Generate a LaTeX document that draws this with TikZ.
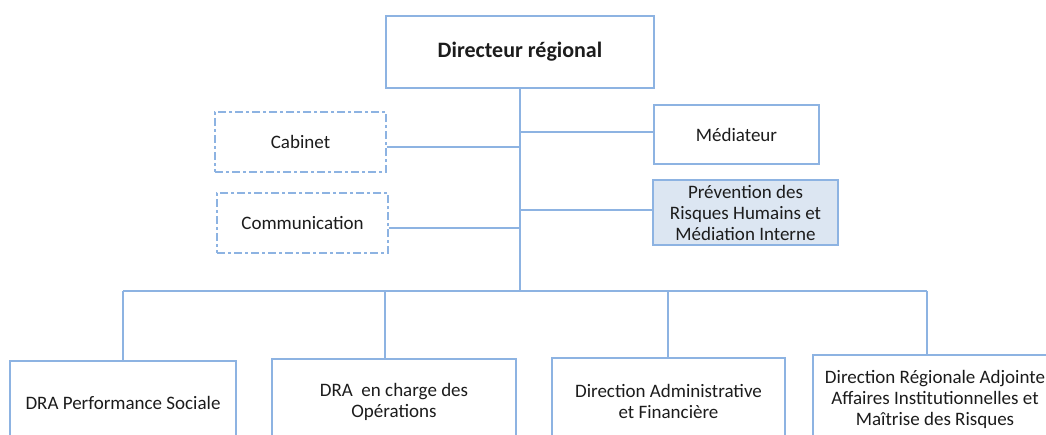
\documentclass[tikz,border=0pt]{standalone}
\usepackage{fontspec}
\setmainfont{Carlito}
\definecolor{lineblue}{HTML}{8DB3E2}
\definecolor{fillblue}{HTML}{DCE6F2}
\definecolor{ink}{HTML}{1C1C1C}
\begin{document}
\begin{tikzpicture}[x=1pt,y=-1pt,
  unit/.style={draw=lineblue,line width=1.4pt,fill=white,text=ink,align=center,
    inner sep=0pt,font=\fontsize{19}{21}\selectfont},
  staff/.style={unit,dash pattern=on 8pt off 3pt on 3pt off 3pt},
  link/.style={draw=lineblue,line width=1.4pt}]
\useasboundingbox (0,0) rectangle (1046,434);
\clip (0,0) rectangle (1046,434);

% head of the region
\node[unit,minimum width=268pt,minimum height=72pt,font=\fontsize{22}{26}\selectfont\bfseries]
  (dir) at (520,52) {Directeur régional};

% staff units on the left
\node[staff,minimum width=171pt,minimum height=60pt] (cab) at (300.5,142) {Cabinet};
\node[staff,minimum width=171pt,minimum height=60pt] (com) at (302.5,223) {Communication};

% units on the right
\node[unit,minimum width=165pt,minimum height=59pt] (med) at (736.5,134.5) {Médiateur};
\node[unit,fill=fillblue,minimum width=185pt,minimum height=65pt] (prev) at (745.5,212.5)
  {Prévention des\\Risques Humains et\\Médiation Interne};

% operational directions
\node[unit,minimum width=226pt,minimum height=83pt] (dps) at (123,402.5) {DRA Performance Sociale};
\node[unit,minimum width=244pt,minimum height=85pt] (dop) at (394,401.5) {DRA\ \ en charge des\\Opérations};
\node[unit,minimum width=233pt,minimum height=86pt] (daf) at (668.5,401) {Direction Administrative\\et Financière};
\node[unit,minimum width=244pt,minimum height=89pt] (dra) at (935,399.5)
  {Direction Régionale Adjointe\\Affaires Institutionnelles et\\Maîtrise des Risques};

% levels of the side branches
\coordinate (ycab) at (0,147);
\coordinate (ycom) at (0,228);
\coordinate (ymed) at (0,132);
\coordinate (yprev) at (0,210);

% trunk and bus
\coordinate (bus) at (520,291);
\coordinate (b1) at (123,291);
\coordinate (b2) at (385,291);
\coordinate (b3) at (668,291);
\coordinate (b4) at (927,291);

\draw[link] (dir.south) -- (bus);
\draw[link] (cab.east |- ycab) -- (dir.south |- ycab);
\draw[link] (com.east |- ycom) -- (dir.south |- ycom);
\draw[link] (med.west |- ymed) -- (dir.south |- ymed);
\draw[link] (prev.west |- yprev) -- (dir.south |- yprev);
\draw[link] (b1) -- (b4);
\draw[link] (b1) -- (dps.north);
\draw[link] (b2) -- (b2 |- dop.north);
\draw[link] (b3) -- (b3 |- daf.north);
\draw[link] (b4) -- (b4 |- dra.north);
\end{tikzpicture}
\end{document}
